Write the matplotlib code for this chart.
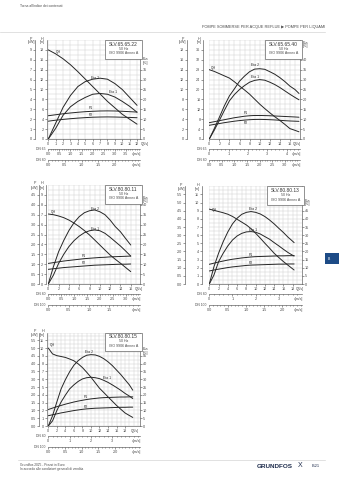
import numpy as np
import matplotlib
matplotlib.use('Agg')
import matplotlib.pyplot as plt
from matplotlib.patches import Rectangle

plt.rcParams['font.family'] = ['Liberation Sans', 'DejaVu Sans']

W, H = 339, 480
TXT = '#4a4a4a'
LINE = '#262626'
GRID = '#cfcfcf'
FS = 2.7

# SLV.65.65.22
Q_A = [0, 1, 2, 3, 4, 5, 6, 7, 8, 9, 10, 11, 12]
H_A = [18.0, 17.2, 16.2, 15.0, 13.6, 12.1, 10.6, 9.1, 7.6, 6.3, 5.0, 4.0, 3.0]
ETA2_A = [0, 8, 16, 22, 26.5, 29, 30.2, 30.7, 30.2, 28, 25, 21, 17]
ETA1_A = [0, 5.4, 12, 16.3, 19, 21, 22.6, 23, 22.6, 21.2, 19, 16.5, 13.5]
P1_A = [2.35, 2.45, 2.55, 2.63, 2.7, 2.76, 2.8, 2.83, 2.84, 2.83, 2.8, 2.76, 2.72]
P2_A = [1.8, 1.9, 1.98, 2.05, 2.11, 2.16, 2.2, 2.22, 2.23, 2.22, 2.2, 2.18, 2.15]

# SLV.65.65.40
Q_B = [0, 1, 2, 3, 4, 5, 6, 7, 8, 9, 10, 11, 12, 13, 14, 15, 16, 17, 17.8]
H_B = [28, 27.3, 26.4, 25.5, 24.6, 23.1, 21.4, 19.8, 18.1, 16.1, 14.1, 12.3, 10.6, 9.0, 7.5, 5.9, 4.2, 3.5, 2.9]
ETA2_B = [0, 5.3, 11, 16.8, 21.8, 25.4, 29.2, 31.8, 34, 35.3, 35.5, 35.2, 34, 32.7, 31, 29, 26.7, 25, 23]
ETA1_B = [0, 4.5, 9.4, 14.5, 19.3, 22.5, 25, 27, 28.7, 29.6, 30, 29.7, 28.7, 27.5, 26, 24.3, 22.6, 21, 19.8]
P1_B = [3.3, 3.5, 3.7, 3.9, 4.1, 4.3, 4.45, 4.6, 4.7, 4.75, 4.75, 4.73, 4.7, 4.65, 4.6, 4.55, 4.5, 4.45, 4.4]
P2_B = [2.77, 2.95, 3.12, 3.3, 3.45, 3.6, 3.72, 3.82, 3.9, 3.95, 3.96, 3.94, 3.9, 3.85, 3.78, 3.7, 3.64, 3.6, 3.57]

# SLV.80.80.11
Q_C = [0, 1, 2, 3, 4, 5, 6, 7, 8, 9, 10, 11, 12, 13, 14, 15, 16]
H_C = [7.07, 7.0, 6.87, 6.7, 6.46, 6.15, 5.8, 5.4, 4.95, 4.45, 3.94, 3.43, 2.93, 2.5, 2.1, 1.67, 1.25]
ETA2_C = [0, 8.8, 16.3, 22, 27, 31, 34, 36, 37, 37.4, 36.5, 35, 32.3, 29, 26.4, 23, 19.7]
ETA1_C = [0, 4.5, 10.4, 15, 18.9, 21.9, 24.2, 25.9, 26.9, 27.3, 26.9, 25.6, 23.6, 21.4, 19.2, 16.7, 14.1]
P1_C = [1.04, 1.08, 1.12, 1.16, 1.19, 1.22, 1.25, 1.28, 1.3, 1.32, 1.34, 1.35, 1.37, 1.38, 1.39, 1.4, 1.41]
P2_C = [0.74, 0.77, 0.8, 0.83, 0.85, 0.87, 0.89, 0.91, 0.93, 0.95, 0.96, 0.97, 0.98, 0.99, 1.0, 1.0, 1.01]

# SLV.80.80.13
Q_D = [0, 1, 2, 3, 4, 5, 6, 7, 8, 9, 10, 11, 12, 13, 14, 15, 16, 17, 18, 18.3]
H_D = [9.2, 9.05, 8.9, 8.75, 8.57, 8.3, 7.95, 7.6, 7.25, 6.8, 6.23, 5.63, 5.0, 4.4, 3.77, 3.25, 2.75, 2.3, 1.85, 1.72]
ETA2_D = [0, 10.6, 18.9, 26, 32, 36.9, 40.4, 42.8, 44, 44.5, 44, 43, 41.4, 39.3, 36.9, 34.2, 31.6, 28.7, 26.2, 25.4]
ETA1_D = [0, 5.5, 13.7, 18.9, 23.4, 27, 29.5, 31.1, 32, 32.2, 31.8, 30.7, 29.1, 27.5, 25.4, 23.4, 21.3, 19.3, 17.6, 17.2]
P1_D = [1.21, 1.28, 1.35, 1.41, 1.47, 1.52, 1.56, 1.6, 1.63, 1.66, 1.68, 1.69, 1.7, 1.71, 1.72, 1.73, 1.73, 1.74, 1.74, 1.74]
P2_D = [0.8, 0.86, 0.91, 0.96, 1.01, 1.05, 1.08, 1.11, 1.14, 1.16, 1.17, 1.18, 1.19, 1.2, 1.21, 1.22, 1.22, 1.23, 1.23, 1.23]

# SLV.80.80.15
Q_E = [0, 1, 2, 3, 4, 5, 6, 7, 8, 9, 10, 11, 12, 13, 14, 15, 16, 17, 18, 19, 19.8]
H_E = [10.0, 9.25, 9.03, 8.92, 8.8, 8.6, 8.37, 7.98, 7.5, 6.9, 6.26, 5.55, 4.85, 4.3, 3.74, 3.19, 2.64, 2.15, 1.67, 1.35, 1.1]
ETA2_E = [0, 6.6, 15.4, 23.8, 29.7, 34.8, 39, 41.9, 44, 45.4, 45.8, 45.6, 44.7, 43.2, 41.2, 38.8, 35.9, 33, 29.7, 26.4, 23]
ETA1_E = [0, 3.3, 9.9, 15.4, 19.8, 23.8, 26.4, 28.6, 30.2, 31, 31.3, 31, 30.4, 29.3, 28, 26.4, 24.7, 22.9, 20.9, 19.2, 17.6]
P1_E = [1.06, 1.15, 1.24, 1.32, 1.4, 1.47, 1.54, 1.6, 1.65, 1.7, 1.74, 1.77, 1.8, 1.82, 1.83, 1.84, 1.85, 1.86, 1.86, 1.87, 1.87]
P2_E = [0.66, 0.72, 0.78, 0.84, 0.89, 0.94, 0.99, 1.03, 1.07, 1.1, 1.12, 1.14, 1.15, 1.16, 1.17, 1.18, 1.19, 1.2, 1.2, 1.21, 1.21]


def steps(a, b, s):
    return list(np.round(np.arange(a, b + s / 2, s), 3))


panels = [
    dict(name='SLV.65.65.22', grid=(48.3, 40, 140, 139), qmax=12.4, qticks=steps(0, 12, 1), qlab=140.5,
         hmax=20, hstep=2, pf=0.5, pticks=steps(0, 9, 1), pfmt='%d', ef=2.5, eticks=steps(0, 35, 5),
         p_off=13.3, h_off=1.8, eta_lab=15.8,
         q=Q_A, h=H_A, eta2=ETA2_A, eta1=ETA1_A, p1=P1_A, p2=P2_A,
         labels=[('QH', 1.35, 17.5), ('Eta 2', 6.3, 12.4), ('Eta 1', 8.8, 9.4), ('P1', 5.7, 6.2), ('P2', 5.7, 4.9)],
         rows=[('DN 65', 0.334, steps(0, 3.5, 0.5), '%.1f'), ('DN 80', 0.222, steps(0, 2.0, 0.5), '%.1f')]),
    dict(name='SLV.65.65.40', grid=(209.3, 40, 300, 139), qmax=18, qticks=steps(0, 16, 2), qlab=293,
         hmax=40, hstep=4, pf=0.5, pticks=steps(0, 18, 2), pfmt='%d', ef=1.25, eticks=steps(0, 40, 5),
         p_off=22.6, h_off=6, eta_lab=38.2,
         q=Q_B, h=H_B, eta2=ETA2_B, eta1=ETA1_B, p1=P1_B, p2=P2_B,
         labels=[('QH', 0.8, 28.8), ('Eta 2', 9.1, 29.8), ('Eta 1', 9.1, 24.9), ('P1', 7.3, 10.6), ('P2', 7.3, 6.6)],
         rows=[('DN 65', 0.261, steps(0, 4, 1), '%d'), ('DN 80', 0.2, steps(0, 3.0, 0.5), '%.1f')]),
    dict(name='SLV.80.80.11', grid=(48.3, 185, 140, 284), qmax=17.8, qticks=steps(0, 16, 2), qlab=134.5,
         hmax=10, hstep=1, pf=0.5, pticks=steps(0, 4.5, 0.5), pfmt='%.1f', ef=5, eticks=steps(0, 40, 5),
         p_off=9.8, h_off=2.3, eta_lab=8.55,
         q=Q_C, h=H_C, eta2=ETA2_C, eta1=ETA1_C, p1=P1_C, p2=P2_C,
         labels=[('QH', 1.0, 7.25), ('Eta 2', 9.0, 7.6), ('Eta 1', 9.0, 5.6), ('P1', 6.9, 2.83), ('P2', 6.9, 2.15)],
         rows=[('DN 80', 0.2, steps(0, 3.0, 0.5), '%.1f'), ('DN 100', 0.127, steps(0, 1.5, 0.5), '%.1f')]),
    dict(name='SLV.80.80.13', grid=(209.3, 186.3, 302, 284), qmax=20, qticks=steps(0, 18, 2), qlab=295.5,
         hmax=12, hstep=1, pf=0.5, pticks=steps(0, 5.5, 0.5), pfmt='%.1f', ef=5, eticks=steps(0, 45, 5),
         p_off=24.3, h_off=7.6, eta_lab=10.0,
         q=Q_D, h=H_D, eta2=ETA2_D, eta1=ETA1_D, p1=P1_D, p2=P2_D,
         labels=[('QH', 1.2, 9.15), ('Eta 2', 9.4, 9.25), ('Eta 1', 9.5, 6.6), ('P1', 9.0, 3.6), ('P2', 9.0, 2.62)],
         rows=[('DN 80', 0.2, steps(0, 3, 1), '%d'), ('DN 100', 0.127, steps(0, 2.0, 0.5), '%.1f')]),
    dict(name='SLV.80.80.15', grid=(48.3, 332.5, 140, 426), qmax=21.5, qticks=steps(0, 18, 2), qlab=131,
         hmax=12, hstep=1, pf=0.5, pticks=steps(0, 5.5, 0.5), pfmt='%.1f', ef=5, eticks=steps(0, 45, 5),
         p_off=9.8, h_off=1.5, eta_lab=9.6,
         q=Q_E, h=H_E, eta2=ETA2_E, eta1=ETA1_E, p1=P1_E, p2=P2_E,
         labels=[('QH', 0.95, 10.35), ('Eta 2', 9.6, 9.45), ('Eta 1', 13.7, 6.1), ('P1', 8.9, 3.75), ('P2', 8.9, 2.5)],
         rows=[('DN 80', 0.2, steps(0, 3, 1), '%d'), ('DN 100', 0.1275, steps(0, 2.0, 0.5), '%.1f')]),
]

fig = plt.figure(figsize=(W / 100, H / 100), dpi=100)
fig.patch.set_facecolor('white')


def add_rect(x0, y0, x1, y1):
    return fig.add_axes([x0 / W, 1 - y1 / H, (x1 - x0) / W, (y1 - y0) / H])


def ftext(x, y, s, **kw):
    kw.setdefault('fontsize', FS)
    kw.setdefault('color', TXT)
    kw.setdefault('va', 'center')
    return fig.text(x / W, 1 - y / H, s, **kw)


def style_ticks(a, axis='both'):
    a.tick_params(axis=axis, which='major', length=1.3, width=0.4, labelsize=FS, pad=0.7,
                  colors=TXT)
    a.tick_params(axis=axis, which='minor', length=0.7, width=0.3)


def panel(p):
    gx0, gy0, gx1, gy1 = p['grid']
    wpx, hpx = gx1 - gx0, gy1 - gy0
    ax = add_rect(gx0, gy0, gx1, gy1)
    ax.set_xlim(0, p['qmax'])
    ax.set_ylim(0, p['hmax'])
    hs = p['hstep']

    ax.set_xticks(p['qticks'])
    ax.set_xticklabels(['%d' % v for v in p['qticks']])
    ax.set_xticks(np.arange(0, p['qmax'], 1), minor=True)
    ax.set_yticks(steps(0, p['hmax'] - hs, hs))
    ax.set_yticklabels(['%d' % v for v in steps(0, p['hmax'] - hs, hs)])
    ax.set_yticks(steps(0, p['hmax'], hs / 2), minor=True)
    ax.grid(which='both', color=GRID, lw=0.35)
    ax.set_axisbelow(True)
    style_ticks(ax)
    ax.tick_params(which='minor', length=0)
    ax.spines['top'].set_visible(False)
    ax.spines['right'].set_visible(False)
    ax.spines['left'].set_position(('outward', p['h_off'] * 0.72))
    for s in ('left', 'bottom'):
        ax.spines[s].set_linewidth(0.45)
        ax.spines[s].set_color('#555555')

    # power scale on the far left, efficiency on the right
    pf, ef = p['pf'], p['ef']
    pax = ax.secondary_yaxis(-p['p_off'] / wpx, functions=(lambda v, k=pf: v * k, lambda v, k=pf: v / k))
    pax.set_yticks(p['pticks'])
    pax.set_yticklabels([p['pfmt'] % v for v in p['pticks']])
    style_ticks(pax)
    pax.spines['left'].set_linewidth(0.45)
    pax.spines['left'].set_color('#555555')

    eax = ax.secondary_yaxis('right', functions=(lambda v, k=ef: v * k, lambda v, k=ef: v / k))
    eax.set_yticks(p['eticks'])
    eax.set_yticklabels(['%d' % v for v in p['eticks']])
    style_ticks(eax)
    eax.spines['right'].set_linewidth(0.45)
    eax.spines['right'].set_color('#555555')

    q = np.array(p['q'])
    kw = dict(color=LINE, lw=0.7, solid_capstyle='round')
    ax.plot(q, p['h'], **kw)
    ax.plot(q, np.array(p['eta2']) / ef, **kw)
    ax.plot(q, np.array(p['eta1']) / ef, **kw)
    ax.plot(q, np.array(p['p1']) / pf, **kw)
    ax.plot(q, np.array(p['p2']) / pf, **kw)
    for s, x, y in p['labels']:
        ax.text(x, y, s, fontsize=2.4, color=LINE, ha='center', va='center')

    # axis titles
    xp = gx0 - p['p_off'] - 4
    xh = gx0 - p['h_off'] - 4
    ftext(xp, gy0 - 1.5, 'P', ha='center')
    ftext(xp, gy0 + 2.5, '[kW]', ha='center')
    ftext(xh, gy0 - 1.5, 'H', ha='center')
    ftext(xh, gy0 + 2.5, '[m]', ha='center')
    ye = gy1 - p['eta_lab'] / p['hmax'] * hpx
    ftext(gx1 + 5.5, ye - 1.8, 'Eta', ha='center')
    ftext(gx1 + 5.5, ye + 1.8, '[%]', ha='center')
    ftext(p['qlab'], gy1 + 4.6, 'Q[l/s]', ha='left', fontsize=2.5)

    # model box
    bx0, by0, bx1, by1 = gx1 - 35, gy0, gx1 + 1.5, gy0 + 18.5
    fig.add_artist(Rectangle((bx0 / W, 1 - by1 / H), (bx1 - bx0) / W, (by1 - by0) / H,
                             transform=fig.transFigure, fc='white', ec='#555555', lw=0.45, zorder=5))
    bxc = (bx0 + bx1) / 2
    ftext(bxc, by0 + 4.3, p['name'], ha='center', fontsize=3.5, color='#333333', zorder=6)
    ftext(bxc, by0 + 9.0, '50 Hz', ha='center', fontsize=2.6, zorder=6)
    ftext(bxc, by0 + 13.3, 'ISO 9906 Annex A', ha='center', fontsize=2.6, zorder=6)

    # velocity rulers
    for i, (dn, ratio, vt, fmt) in enumerate(p['rows']):
        yl = gy1 + 10 + 11.3 * i
        rax = add_rect(gx0, yl - 0.5, gx1, yl)
        rax.set_xlim(0, p['qmax'] * ratio)
        rax.set_yticks([])
        rax.set_facecolor('none')
        for s in ('top', 'left', 'right'):
            rax.spines[s].set_visible(False)
        rax.spines['bottom'].set_linewidth(0.45)
        rax.spines['bottom'].set_color('#555555')
        rax.set_xticks(vt)
        rax.set_xticklabels([fmt % v for v in vt])
        mstep = (vt[1] - vt[0]) / 5
        rax.set_xticks(np.arange(0, p['qmax'] * ratio, mstep), minor=True)
        style_ticks(rax, 'x')
        ftext(gx0 - 3, yl, dn, ha='right', fontsize=2.4)
        ftext(gx1 + 1, yl + 4.6, 'v[m/s]', ha='right', fontsize=2.5)


for p in panels:
    panel(p)

# page header and footer
ftext(20, 5.8, "Torna all'indice dei contenuti", fontsize=2.4)
ftext(325, 26.8, 'POMPE SOMMERSE PER ACQUE REFLUE \u25b6 POMPE PER LIQUAMI', ha='right', fontsize=2.8)
fig.add_artist(plt.Line2D([0, 325 / W], [1 - 32 / H, 1 - 32 / H], transform=fig.transFigure,
                          color='#d5d5d5', lw=0.5))
fig.add_artist(plt.Line2D([18 / W, 325 / W], [1 - 460 / H, 1 - 460 / H], transform=fig.transFigure,
                          color='#d5d5d5', lw=0.5))
ftext(20, 465.5, 'Grundfos 2025 - Prezzi in Euro', fontsize=2.3)
ftext(20, 469.2, 'In accordo alle condizioni generali di vendita', fontsize=2.3)
ftext(257, 466.3, 'GRUNDFOS', fontsize=4.6, fontweight='bold', color='#1f2d4d')
ftext(298, 465.8, 'X', fontsize=5, color='#1f2d4d')
ftext(312, 466.3, 'B.21', fontsize=2.8, color='#1f2d4d')

# section tab
fig.add_artist(Rectangle((325 / W, 1 - 264 / H), 14 / W, 11 / H, transform=fig.transFigure,
                         fc='#1d4b86', ec='none', zorder=5))
ftext(328, 258.5, 'B', fontsize=2.5, color='white', zorder=6)

fig.savefig('out.png', dpi=100, facecolor='white')
